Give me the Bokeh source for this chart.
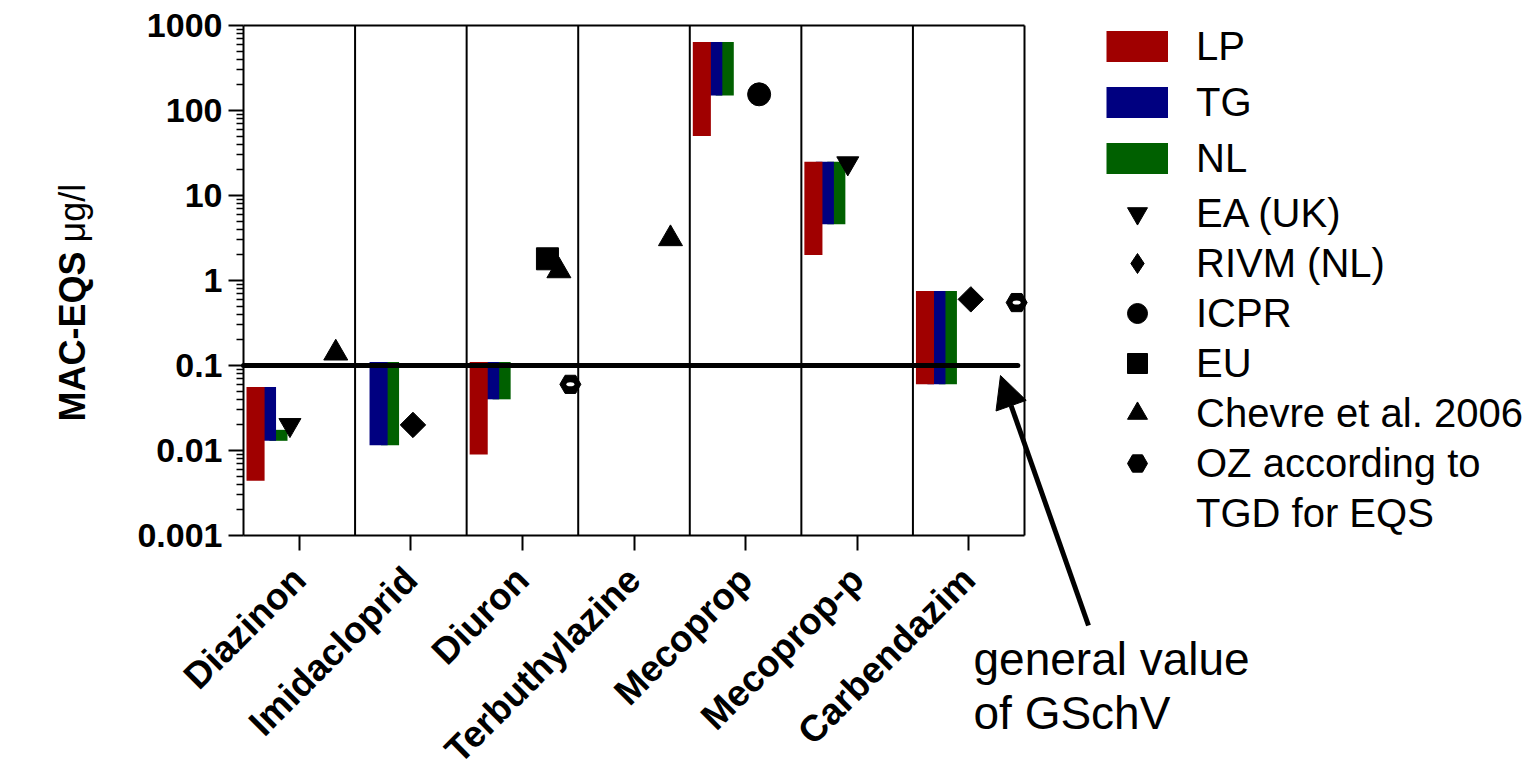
import numpy as np
from bokeh.plotting import figure
from bokeh.models import (Range1d, FixedTicker, Legend, LegendItem, Arrow,
                          NormalHead, Label, LinearAxis, LogAxis)
from bokeh.embed import file_html
from bokeh.resources import INLINE

nan = float("nan")

# ---------------- data ----------------
categories = ["Diazinon", "Imidacloprid", "Diuron", "Terbuthylazine",
              "Mecoprop", "Mecoprop-p", "Carbendazim"]

lp_low = [0.0044, nan, 0.009, nan, 50, 2.0, 0.06]
lp_high = [0.056, nan, 0.11, nan, 640, 25, 0.75]
tg_low = [0.013, 0.0115, 0.04, nan, 150, 4.6, 0.06]
tg_high = [0.056, 0.11, 0.11, nan, 640, 25, 0.75]
nl_low = [0.013, 0.0115, 0.04, nan, 150, 4.6, 0.06]
nl_high = [0.0175, 0.11, 0.11, nan, 640, 25, 0.75]

ea_cats = ["Diazinon", "Mecoprop-p"]
ea_vals = [0.02, 24]
rivm_cats = ["Imidacloprid", "Carbendazim"]
rivm_vals = [0.02, 0.6]
icpr_cats = ["Mecoprop"]
icpr_vals = [155]
eu_cats = ["Diuron"]
eu_vals = [1.8]
chevre_cats = ["Diazinon", "Diuron", "Terbuthylazine"]
chevre_vals = [0.14, 1.3, 3.1]
oz_cats = ["Diuron", "Carbendazim"]
oz_vals = [0.06, 0.55]

gschv_value = 0.1

y_ticks = [0.001, 0.01, 0.1, 1, 10, 100, 1000]
y_tick_labels = ["0.001", "0.01", "0.1", "1", "10", "100", "1000"]

# ---------------- layout helpers (page pixels of the plot box) ----------------
FONT = "Liberation Sans"
W, H = 1535, 772
PX_L, PX_R, PX_T, PX_B = 243, 1024, 25, 535
n_cat = len(categories)
LOG_HI, LOG_LO = np.log10(y_ticks[-1]), np.log10(y_ticks[0])


def px_x(px):
    return (px - PX_L) * n_cat / (PX_R - PX_L)


def px_y(py):
    return 10 ** (LOG_HI - (py - PX_T) * (LOG_HI - LOG_LO) / (PX_B - PX_T))


def slot(k):
    return 0.108 + 0.1027 * k


def cat_x(cats, k):
    return [categories.index(c) + slot(k) for c in cats]


p = figure(width=W, height=H, output_backend="svg", toolbar_location=None,
           y_axis_type="log",
           x_range=Range1d(px_x(0), px_x(W)), y_range=Range1d(px_y(H), px_y(0)),
           min_border_left=0, min_border_top=0, min_border_right=0,
           min_border_bottom=0)
p.background_fill_color = "white"
p.border_fill_color = "white"
p.outline_line_color = None
p.grid.grid_line_color = None

# ---------------- x axis ----------------
xa = p.xaxis[0]
xa.fixed_location = y_ticks[0]
xa.bounds = (0, n_cat)
xa.ticker = FixedTicker(ticks=[i + 0.5 for i in range(n_cat)])
xa.major_label_overrides = {i + 0.5: c for i, c in enumerate(categories)}
xa.major_label_orientation = np.pi / 4
xa.major_label_text_font = FONT
xa.major_label_text_font_style = "bold"
xa.major_label_text_font_size = "37px"
xa.major_label_text_color = "black"
xa.major_tick_out = 15
xa.major_tick_in = 0
xa.minor_tick_line_color = None
xa.axis_line_width = 2
xa.major_tick_line_width = 2
xa.major_label_standoff = 23

# ---------------- y axis ----------------
ya = p.yaxis[0]
ya.fixed_location = 0
ya.bounds = (y_ticks[0], y_ticks[-1])
minor = [m * t for t in y_ticks[:-1] for m in range(2, 10)]
ya.ticker = FixedTicker(ticks=y_ticks, minor_ticks=minor)
ya.major_label_overrides = {t: l for t, l in zip(y_ticks, y_tick_labels)}
ya.major_label_text_font = FONT
ya.major_label_text_font_style = "bold"
ya.major_label_text_font_size = "34px"
ya.major_label_text_color = "black"
ya.major_tick_out = 15
ya.major_tick_in = 0
ya.minor_tick_out = 7
ya.minor_tick_in = 0
ya.axis_line_width = 2
ya.major_tick_line_width = 2
ya.minor_tick_line_width = 1.5
ya.major_label_standoff = 6

# top and right borders of the plot box
top_ax = LinearAxis(fixed_location=y_ticks[-1], bounds=(0, n_cat),
                    ticker=FixedTicker(ticks=[], minor_ticks=[]),
                    axis_line_width=2, major_label_text_font_size="0px")
right_ax = LogAxis(fixed_location=n_cat, bounds=(y_ticks[0], y_ticks[-1]),
                   ticker=FixedTicker(ticks=[], minor_ticks=[]),
                   axis_line_width=2, major_label_text_font_size="0px")
p.add_layout(top_ax, "above")
p.add_layout(right_ax, "right")

# category separators
seps = list(range(1, n_cat))
p.segment(x0=seps, y0=[y_ticks[0]] * len(seps), x1=seps,
          y1=[y_ticks[-1]] * len(seps), line_color="black", line_width=2)

# y axis title (bold part + regular unit)
p.add_layout(Label(x=px_x(72), y=px_y(421), text="MAC-EQS", angle=np.pi / 2,
                   text_font=FONT, text_font_style="bold", text_font_size="36px",
                   text_color="black", text_align="left", text_baseline="middle"))
p.add_layout(Label(x=px_x(72), y=px_y(242), text="\u03bcg/l", angle=np.pi / 2,
                   text_font=FONT, text_font_size="36px",
                   text_color="black", text_align="left", text_baseline="middle"))

# ---------------- bars (NL first, LP on top) ----------------
bar_w = 0.162
xs = np.arange(n_cat)
r_nl = p.vbar(x=xs + slot(2), width=bar_w, bottom=nl_low, top=nl_high,
              fill_color="#006000", line_color=None)
r_tg = p.vbar(x=xs + slot(1), width=bar_w, bottom=tg_low, top=tg_high,
              fill_color="#000080", line_color=None)
r_lp = p.vbar(x=xs + slot(0), width=bar_w, bottom=lp_low, top=lp_high,
              fill_color="#a00000", line_color=None)

# general value line
p.line(x=[0, n_cat - 0.06], y=[gschv_value, gschv_value], line_color="black",
       line_width=5, line_cap="round")

# ---------------- markers ----------------
r_ea = p.scatter(cat_x(ea_cats, 3), ea_vals, marker="inverted_triangle", size=22,
                 color="black")
r_rivm = p.scatter(cat_x(rivm_cats, 4), rivm_vals, marker="square", size=18,
                   angle=np.pi / 4, color="black")
r_icpr = p.scatter(cat_x(icpr_cats, 5), icpr_vals, marker="circle", size=23,
                   color="black")
r_eu = p.scatter(cat_x(eu_cats, 6), eu_vals, marker="square", size=22, color="black")
r_chev = p.scatter(cat_x(chevre_cats, 7), chevre_vals, marker="triangle", size=24,
                   color="black")
r_oz = p.scatter(cat_x(oz_cats, 8), oz_vals, marker="hex", size=21, color="black")
p.ellipse(cat_x(oz_cats, 8), oz_vals, width=8, height=4, width_units="screen",
          height_units="screen", fill_color="white", line_color=None)

# legend-only swatches (one NaN point each, so nothing shows in the plot)
l_lp = p.line([nan], [nan], line_color="#a00000", line_width=31, line_cap="butt")
l_tg = p.line([nan], [nan], line_color="#000080", line_width=31, line_cap="butt")
l_nl = p.line([nan], [nan], line_color="#006000", line_width=31, line_cap="butt")
l_rivm = p.scatter([nan], [nan], marker="diamond", color="black")
l_blank = p.line([nan], [nan], line_alpha=0)

# ---------------- legends ----------------
leg_a = Legend(items=[LegendItem(label="LP", renderers=[l_lp]),
                      LegendItem(label="TG", renderers=[l_tg]),
                      LegendItem(label="NL", renderers=[l_nl])],
               location=(1106, H - 181), glyph_width=62, glyph_height=46,
               label_height=46, spacing=10, padding=0, margin=0,
               label_standoff=28, label_text_font=FONT,
               label_text_font_size="40px", label_text_color="black",
               background_fill_alpha=0, border_line_alpha=0)
leg_b = Legend(items=[LegendItem(label="EA (UK)", renderers=[r_ea]),
                      LegendItem(label="RIVM (NL)", renderers=[l_rivm]),
                      LegendItem(label="ICPR", renderers=[r_icpr]),
                      LegendItem(label="EU", renderers=[r_eu]),
                      LegendItem(label="Chevre et al. 2006", renderers=[r_chev]),
                      LegendItem(label="OZ according to", renderers=[r_oz]),
                      LegendItem(label="TGD for EQS", renderers=[l_blank])],
               location=(1106, H - 538), glyph_width=62, glyph_height=50,
               label_height=50, spacing=0, padding=0, margin=0,
               label_standoff=28, label_text_font=FONT,
               label_text_font_size="40px", label_text_color="black",
               background_fill_alpha=0, border_line_alpha=0)
p.add_layout(leg_a)
p.add_layout(leg_b)

# ---------------- annotation ----------------
p.add_layout(Arrow(end=NormalHead(size=32, fill_color="black", line_color="black"),
                   x_start=px_x(1088), y_start=px_y(625),
                   x_end=px_x(1000), y_end=px_y(375),
                   line_color="black", line_width=5))
p.add_layout(Label(x=px_x(973), y=px_y(632), text="general value\nof GSchV",
                   text_font=FONT, text_font_size="46px", text_color="black",
                   text_baseline="top", text_align="left", text_line_height=1.05))

open("out.html", "w").write(file_html(p, INLINE))
